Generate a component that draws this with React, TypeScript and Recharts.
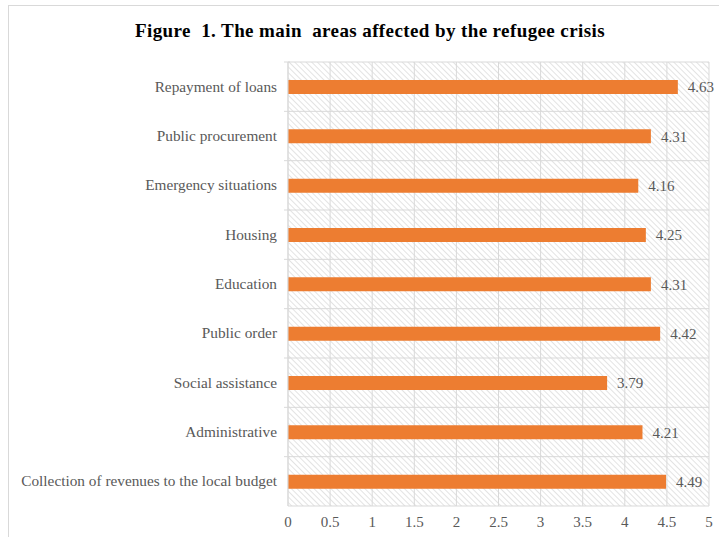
import React from "react";
import { BarChart, Bar, XAxis, YAxis, CartesianGrid, LabelList } from "recharts";

const AREAS = [
  "Repayment of loans",
  "Public procurement",
  "Emergency situations",
  "Housing",
  "Education",
  "Public order",
  "Social assistance",
  "Administrative",
  "Collection of revenues to the local budget",
];
const SCORES = [4.63, 4.31, 4.16, 4.25, 4.31, 4.42, 3.79, 4.21, 4.49];
const X_TICKS = [0, 0.5, 1, 1.5, 2, 2.5, 3, 3.5, 4, 4.5, 5];

const data = AREAS.map((name, i) => ({ name, value: SCORES[i] }));

const FONT = "'Times New Roman', 'Liberation Serif', 'DejaVu Serif', serif";
const GREY = "#595959";
const LINE = "#d9d9d9";

function CatTick(props: any) {
  const { x, y, payload } = props;
  const half = payload?.offset ?? 24.7;
  return (
    <g>
      <line x1={x + 4} x2={x + 10} y1={y - half} y2={y - half} stroke={LINE} />
      <text x={x - 3} y={y} dy={5} textAnchor="end" fill={GREY} fontSize={15.3} fontFamily={FONT}>
        {payload.value}
      </text>
    </g>
  );
}

export default function App() {
  return (
    <div style={{ position: "absolute", left: 0, top: 0, width: 719, height: 537, background: "#fff" }}>
      <svg width={0} height={0} style={{ position: "absolute" }}>
        <defs>
          <pattern id="hatch" patternUnits="userSpaceOnUse" width={4} height={4} patternTransform="rotate(-45)">
            <line x1={0} y1={0} x2={0} y2={4} stroke="#d0d0d0" strokeWidth={1.2} />
          </pattern>
        </defs>
      </svg>
      <div
        style={{
          position: "absolute",
          left: 8,
          top: 5,
          right: 0,
          bottom: 0,
          borderTop: `1px solid ${LINE}`,
          borderLeft: `1px solid ${LINE}`,
        }}
      />
      <div
        style={{
          position: "absolute",
          top: 20,
          left: 0,
          width: 740,
          textAlign: "center",
          fontFamily: FONT,
          fontWeight: "bold",
          fontSize: 19,
          letterSpacing: 0.4,
          whiteSpace: "pre",
          color: "#000",
        }}
      >
        {"Figure  1. The main  areas affected by the refugee crisis"}
      </div>
      <div style={{ position: "absolute", left: 0, top: 0 }}>
        <BarChart
          width={719}
          height={537}
          data={data}
          layout="vertical"
          margin={{ top: 62, right: 10, bottom: 6, left: 0 }}
        >
          <CartesianGrid
            stroke={LINE}
            fill="url(#hatch)"
            fillOpacity={1}
            horizontalCoordinatesGenerator={({ offset }: any) =>
              AREAS.map((_, i) => offset.top + (i * offset.height) / AREAS.length).concat(offset.top + offset.height)
            }
          />
          <XAxis
            type="number"
            domain={[0, 5]}
            ticks={X_TICKS}
            axisLine={false}
            tickLine={false}
            height={25}
            tick={{ fill: GREY, fontSize: 15, fontFamily: FONT }}
            tickMargin={4}
          />
          <YAxis
            type="category"
            dataKey="name"
            width={288}
            axisLine={{ stroke: LINE }}
            tickLine={false}
            tick={<CatTick />}
            interval={0}
          />
          <Bar dataKey="value" fill="#ED7D31" barSize={14} isAnimationActive={false}>
            <LabelList dataKey="value" position="right" offset={10} fill={GREY} fontSize={15} fontFamily={FONT} />
          </Bar>
        </BarChart>
      </div>
    </div>
  );
}
